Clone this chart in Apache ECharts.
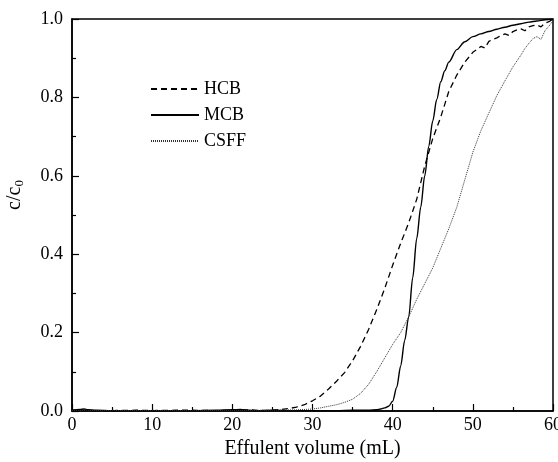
<!DOCTYPE html>
<html><head><meta charset="utf-8">
<script src="https://cdn.jsdelivr.net/npm/echarts@6/dist/echarts.min.js"></script>
<style>html,body{margin:0;padding:0;background:#fff}#c{width:558px;height:462px}</style>
</head><body><div id="c"></div>
<script>
const xTicks = [0, 10, 20, 30, 40, 50, 60];
const yTicks = ['0.0', '0.2', '0.4', '0.6', '0.8', '1.0'];
const seriesNames = ['HCB', 'MCB', 'CSFF'];

const hcbX = [0,2,5,8,10,13,15,18,20,22,24,25,26,27,28,29,30,31,32,33,34,35,36,37,38,39,40,41,42,43,44,45,46,47,48,49,50,50.5,51,51.5,52,52.5,53,53.5,54,54.5,55,55.5,56,56.5,57,57.5,58,58.5,59,59.5,60];
const hcbY = [0.002,0.001,0.001,0.002,0.001,0.002,0.002,0.001,0.002,0.003,0.001,0.002,0.004,0.006,0.01,0.016,0.026,0.038,0.056,0.076,0.098,0.128,0.165,0.208,0.258,0.312,0.372,0.428,0.48,0.54,0.625,0.695,0.75,0.815,0.857,0.89,0.915,0.922,0.93,0.926,0.943,0.948,0.952,0.958,0.962,0.958,0.968,0.972,0.975,0.97,0.98,0.983,0.985,0.98,0.99,0.993,1.0];

const mcbX = [0,1,1.5,2,3,5,8,10,15,18,20,21,22,23,25,27,30,33,35,37,38,38.5,39,39.5,40,40.5,41,41.5,42,42.5,43,43.5,44,44.5,45,45.5,46,46.5,47,48,49,50,51,52,53,54,55,56,57,58,59,60];
const mcbY = [0.002,0.004,0.005,0.003,0.002,0.001,0.001,0.001,0.001,0.002,0.003,0.004,0.002,0.001,0.002,0.001,0.001,0.001,0.002,0.002,0.003,0.005,0.008,0.012,0.025,0.06,0.115,0.18,0.24,0.34,0.44,0.52,0.6,0.675,0.74,0.795,0.84,0.868,0.89,0.922,0.942,0.955,0.962,0.968,0.974,0.979,0.984,0.988,0.992,0.995,0.998,1.0];

const csffX = [0,5,10,15,20,25,28,30,31,32,33,34,35,36,37,38,39,40,41,42,43,44,45,46,47,48,49,50,51,52,53,54,55,56,56.5,57,57.5,58,58.5,59,59.5,60];
const csffY = [0.001,0.001,0.001,0.001,0.001,0.002,0.003,0.005,0.008,0.012,0.016,0.022,0.03,0.045,0.068,0.1,0.135,0.17,0.2,0.24,0.285,0.325,0.365,0.415,0.465,0.52,0.59,0.66,0.715,0.76,0.805,0.842,0.878,0.908,0.925,0.938,0.95,0.955,0.948,0.97,0.982,0.995];

function pairs(xs, ys) { return xs.map((x, i) => [x, ys[i]]); }

const font = '"Liberation Serif", "Times New Roman", serif';
const chart = echarts.init(document.getElementById('c'), null, {renderer: 'canvas'});
chart.setOption({
  animation: false,
  backgroundColor: '#fff',
  grid: {left: 72, right: 5, top: 19, bottom: 51, outerBoundsMode: 'none', containLabel: false,
         show: true, borderColor: '#000', borderWidth: 1.5, backgroundColor: 'transparent'},
  legend: {
    orient: 'vertical', left: 150, top: 80, padding: 0,
    itemWidth: 48, itemHeight: 14, itemGap: 8,
    itemStyle: {opacity: 0},
    textStyle: {fontFamily: font, fontSize: 18, color: '#000'},
    data: seriesNames.map(n => ({name: n}))
  },
  xAxis: {
    type: 'value', min: xTicks[0], max: xTicks[xTicks.length - 1], interval: 10,
    name: 'Effulent volume (mL)', nameLocation: 'middle', nameGap: 27,
    nameTextStyle: {fontFamily: font, fontSize: 20, color: '#000'},
    axisLine: {lineStyle: {color: '#000', width: 1.5}},
    axisTick: {inside: true, length: 7, lineStyle: {color: '#000', width: 1.2}},
    minorTick: {show: true, splitNumber: 2, length: 4, lineStyle: {color: '#000', width: 1.2}},
    axisLabel: {fontFamily: font, fontSize: 18, color: '#000', margin: 5},
    splitLine: {show: false}
  },
  yAxis: {
    type: 'value', min: 0, max: 1, interval: 0.2,
    name: '{a|c/c}{b|0}', nameLocation: 'middle', nameGap: 46,
    nameTextStyle: {fontFamily: font, color: '#000', padding: [0, 0, 0, 40],
      rich: {a: {fontFamily: font, fontSize: 20, color: '#000'}, b: {fontFamily: font, fontSize: 13, color: '#000', padding: [10, 0, 0, 0]}}},
    axisLine: {lineStyle: {color: '#000', width: 1.5}},
    axisTick: {inside: true, length: 7, lineStyle: {color: '#000', width: 1.2}},
    minorTick: {show: true, splitNumber: 2, length: 4, lineStyle: {color: '#000', width: 1.2}},
    axisLabel: {fontFamily: font, fontSize: 18, color: '#000', margin: 9, formatter: v => yTicks[Math.round(v / 0.2)]},
    splitLine: {show: false}
  },
  series: [
    {name: seriesNames[0], type: 'line', data: pairs(hcbX, hcbY), symbol: 'none', color: '#000',
     lineStyle: {color: '#000', width: 1.3, type: [6, 4]}},
    {name: seriesNames[1], type: 'line', data: pairs(mcbX, mcbY), symbol: 'none', color: '#000', smooth: 0.3, smoothMonotone: 'x',
     lineStyle: {color: '#000', width: 1.4}},
    {name: seriesNames[2], type: 'line', data: pairs(csffX, csffY), symbol: 'none', color: '#333',
     lineStyle: {color: '#333', width: 1, type: [1, 1]}}
  ]
});
</script></body></html>
